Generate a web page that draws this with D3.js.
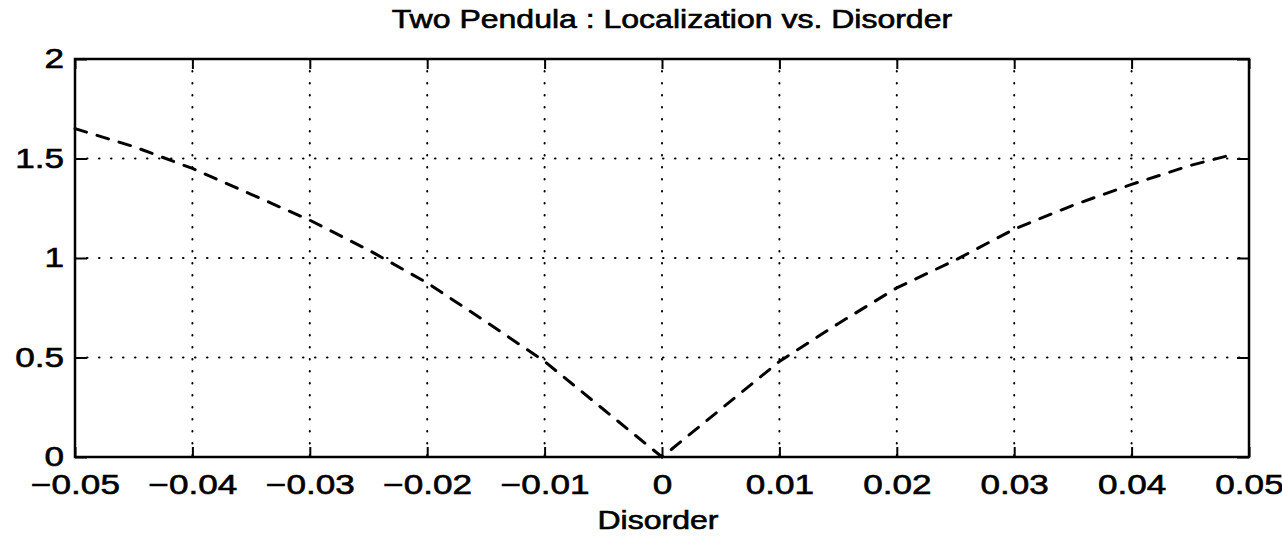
<!DOCTYPE html>
<html>
<head>
<meta charset="utf-8">
<script src="https://cdn.jsdelivr.net/npm/d3@7"></script>
<style>
  body { margin: 0; background: #fff; }
  text { font-family: "Liberation Sans", Arial, sans-serif; fill: #000; stroke: #000; stroke-width: 0.6px; }
</style>
</head>
<body>
<svg id="chart" width="1282" height="538"></svg>
<script>
var width = 1282, height = 538;
var margin = {left: 75, right: 33, top: 59, bottom: 81};

// disorder values and localization
var disorder = [-0.05, -0.045, -0.04, -0.035, -0.03, -0.025, -0.02, -0.015, -0.01, -0.005, 0,
                0.005, 0.01, 0.015, 0.02, 0.025, 0.03, 0.035, 0.04, 0.045, 0.0486];
var localization = [1.65, 1.56, 1.45, 1.32, 1.19, 1.04, 0.875, 0.68, 0.48, 0.24, 0,
                    0.24, 0.48, 0.67, 0.85, 0.99, 1.145, 1.265, 1.37, 1.465, 1.52];
var xTicks = [-0.05, -0.04, -0.03, -0.02, -0.01, 0, 0.01, 0.02, 0.03, 0.04, 0.05];
var yTicks = [0, 0.5, 1, 1.5, 2];
var title = "Two Pendula : Localization vs. Disorder";
var xLabel = "Disorder";

var svg = d3.select("#chart");
var x = d3.scaleLinear().domain([-0.05, 0.05]).range([margin.left, width - margin.right]);
var y = d3.scaleLinear().domain([0, 2]).range([height - margin.bottom, margin.top]);

// dotted grid
var grid = svg.append("g").attr("class", "grid")
    .attr("stroke", "#000").attr("stroke-width", 2)
    .attr("stroke-linecap", "round").attr("stroke-dasharray", "0.5,11.5");
grid.selectAll("line.gx").data(xTicks.slice(1, -1)).enter().append("line")
    .attr("x1", function(d) { return x(d); }).attr("x2", function(d) { return x(d); })
    .attr("y1", y(2)).attr("y2", y(0));
grid.selectAll("line.gy").data(yTicks.slice(1, -1)).enter().append("line")
    .attr("x1", x(-0.05)).attr("x2", x(0.05))
    .attr("y1", function(d) { return y(d); }).attr("y2", function(d) { return y(d); });

// axes with inward ticks
var fmt = d3.format("");
svg.append("g").attr("transform", "translate(0," + y(0) + ")")
    .call(d3.axisBottom(x).tickValues(xTicks).tickSizeInner(-10).tickSizeOuter(0).tickPadding(18).tickFormat(fmt));
svg.append("g").attr("transform", "translate(0," + y(2) + ")")
    .call(d3.axisTop(x).tickValues(xTicks).tickSizeInner(-10).tickSizeOuter(0).tickFormat(""));
svg.append("g").attr("transform", "translate(" + x(-0.05) + ",0)")
    .call(d3.axisLeft(y).tickValues(yTicks).tickSizeInner(-12).tickSizeOuter(0).tickPadding(11).tickFormat(fmt));
svg.append("g").attr("transform", "translate(" + x(0.05) + ",0)")
    .call(d3.axisRight(y).tickValues(yTicks).tickSizeInner(-12).tickSizeOuter(0).tickFormat(""));

svg.selectAll(".domain").remove();
svg.selectAll(".tick line").attr("stroke", "#000").attr("stroke-width", 2);
svg.selectAll(".tick text").style("font-size", "27px").attr("fill", "#000")
    .attr("data-stretch", 1.3);

svg.append("rect")
    .attr("x", x(-0.05)).attr("y", y(2))
    .attr("width", x(0.05) - x(-0.05)).attr("height", y(0) - y(2))
    .attr("fill", "none").attr("stroke", "#000").attr("stroke-width", 2.5);

// dashed curve
var line = d3.line()
    .x(function(d, i) { return x(disorder[i]); })
    .y(function(d) { return y(d); });
svg.append("path").datum(localization)
    .attr("d", line)
    .attr("fill", "none").attr("stroke", "#000").attr("stroke-width", 3)
    .attr("stroke-linecap", "round").attr("stroke-dasharray", "12,11");

// labels
svg.append("text").attr("x", 672).attr("y", 28).attr("text-anchor", "middle")
    .style("font-size", "25px").attr("data-stretch", 1.28).text(title);
svg.append("text").attr("x", 658).attr("y", 529).attr("text-anchor", "middle")
    .style("font-size", "25px").attr("data-stretch", 1.28).text(xLabel);

// the scanned lettering is wider than Arial
svg.selectAll("text").each(function() {
    var len = this.getComputedTextLength();
    var k = +this.getAttribute("data-stretch") || 1;
    if (len > 0) {
        d3.select(this).attr("textLength", len * k).attr("lengthAdjust", "spacingAndGlyphs");
    }
});
</script>
</body>
</html>
